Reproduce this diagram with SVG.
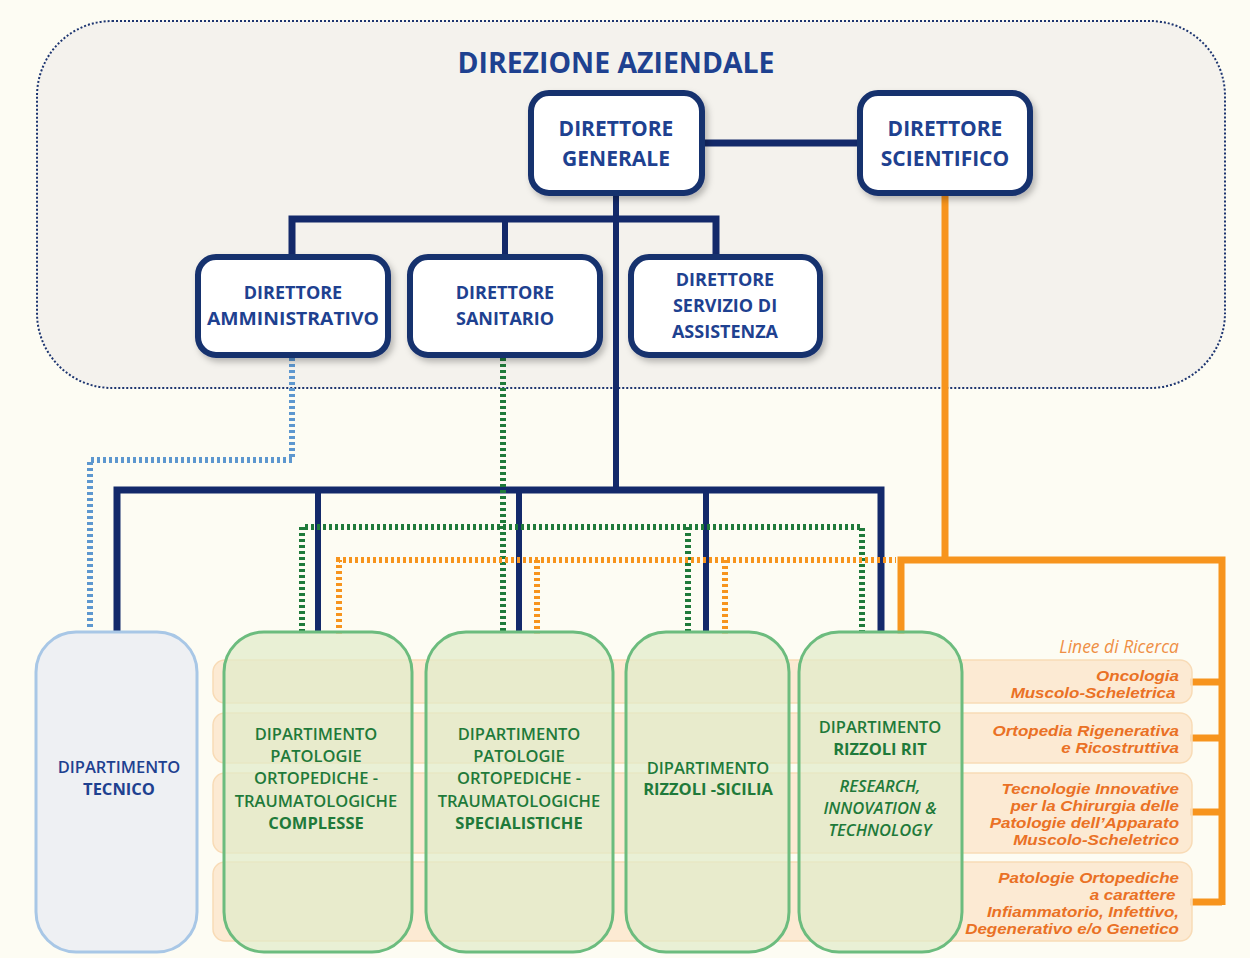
<svg xmlns="http://www.w3.org/2000/svg" width="1250" height="958" viewBox="0 0 1250 958">
<defs>
<filter id="sh" x="-20%" y="-20%" width="140%" height="150%">
<feDropShadow dx="3" dy="4" stdDeviation="3" flood-color="#000" flood-opacity="0.25"/>
</filter>
<style>
.dir{fill:#ffffff;stroke:#16306e;stroke-width:6}
.dt{font-family:"Open Sans",Lato,sans-serif;font-weight:bold;fill:#1e4190;text-anchor:middle}
.nv{stroke:#13296a;fill:none}
.dot{fill:none;stroke-width:6;stroke-dasharray:3 3}
.blu{stroke:#5d97cf}
.grn{stroke:#1f7a3a}
.org{stroke:#f7941d}
.band{fill:#fbe6cd;fill-opacity:0.85;stroke:#f8dbb6;stroke-width:1.5}
.dep{fill:#e1ebc9;fill-opacity:0.72;stroke:#6cbc7e;stroke-width:3}
.gt{font-family:"Open Sans",Lato,sans-serif;font-weight:600;font-size:16.5px;fill:#1f7a3a;text-anchor:middle}
.gb{font-weight:bold}
.gi{font-style:italic;font-weight:600}
.rt{font-family:"Liberation Sans",Arial,sans-serif;font-weight:bold;font-style:italic;font-size:14.5px;fill:#ea7125;text-anchor:end}
</style>
</defs>
<rect x="0" y="0" width="1250" height="958" fill="#fdfcf3"/>

<g id="direzione-aziendale">
<rect x="37" y="21" width="1188" height="367" rx="75" fill="#f4f2ed" stroke="#1d3570" stroke-width="2" stroke-dasharray="2 2"/>
<text x="616" y="73" class="dt" font-size="28" textLength="317" lengthAdjust="spacingAndGlyphs" fill="#1a3170">DIREZIONE AZIENDALE</text>
</g>

<g id="connectors">
<line class="nv" x1="702" y1="143" x2="860" y2="143" stroke-width="7"/>
<line class="nv" x1="616" y1="193" x2="616" y2="490" stroke-width="6"/>
<polyline class="nv" points="292,256 292,219 716,219 716,256" stroke-width="7"/>
<line class="nv" x1="505" y1="219" x2="505" y2="256" stroke-width="6"/>
<polyline class="nv" points="117,632 117,490 881,490 881,632" stroke-width="7"/>
<line class="nv" x1="318" y1="490" x2="318" y2="632" stroke-width="6"/>
<line class="nv" x1="519" y1="490" x2="519" y2="632" stroke-width="6"/>
<line class="nv" x1="706" y1="490" x2="706" y2="632" stroke-width="6"/>
<polyline class="dot blu" points="292,358 292,460 90,460 90,628"/>
<line class="dot grn" x1="503" y1="358" x2="503" y2="632"/>
<polyline class="dot grn" points="302,632 302,527 862,527 862,632"/>
<line class="dot grn" x1="688" y1="527" x2="688" y2="632"/>
<polyline class="dot org" points="339,634 339,560 896,560"/>
<line class="dot org" x1="537" y1="560" x2="537" y2="634"/>
<line class="dot org" x1="725" y1="560" x2="725" y2="634"/>
<line x1="945" y1="196" x2="945" y2="560" stroke="#f7941d" stroke-width="7"/>
<polyline points="901,634 901,560 1222,560 1222,905" fill="none" stroke="#f7941d" stroke-width="7"/>
<g stroke="#f7941d" stroke-width="7">
<line x1="1190" y1="682" x2="1222" y2="682"/>
<line x1="1190" y1="738" x2="1222" y2="738"/>
<line x1="1190" y1="812" x2="1222" y2="812"/>
<line x1="1190" y1="902" x2="1222" y2="902"/>
</g>
</g>

<g id="direttore-generale">
<rect class="dir" x="531" y="93" width="171" height="100" rx="18" filter="url(#sh)"/>
<text class="dt" x="616" y="136" font-size="21">DIRETTORE</text>
<text class="dt" x="616" y="166" font-size="21">GENERALE</text>
</g>
<g id="direttore-scientifico">
<rect class="dir" x="860" y="93" width="170" height="100" rx="18" filter="url(#sh)"/>
<text class="dt" x="945" y="136" font-size="21">DIRETTORE</text>
<text class="dt" x="945" y="166" font-size="21">SCIENTIFICO</text>
</g>
<g id="direttore-amministrativo">
<rect class="dir" x="198" y="257" width="190" height="98" rx="18" stroke-width="5" filter="url(#sh)"/>
<text class="dt" x="293" y="299" font-size="18">DIRETTORE</text>
<text class="dt" x="293" y="325" font-size="18" textLength="172" lengthAdjust="spacingAndGlyphs">AMMINISTRATIVO</text>
</g>
<g id="direttore-sanitario">
<rect class="dir" x="410" y="257" width="190" height="98" rx="18" stroke-width="5" filter="url(#sh)"/>
<text class="dt" x="505" y="299" font-size="18">DIRETTORE</text>
<text class="dt" x="505" y="325" font-size="18">SANITARIO</text>
</g>
<g id="direttore-servizio-assistenza">
<rect class="dir" x="631" y="257" width="189" height="98" rx="18" stroke-width="5" filter="url(#sh)"/>
<text class="dt" x="725" y="286" font-size="18">DIRETTORE</text>
<text class="dt" x="725" y="312" font-size="18">SERVIZIO DI</text>
<text class="dt" x="725" y="338" font-size="18">ASSISTENZA</text>
</g>

<g id="linee-di-ricerca">
<rect class="band" x="213" y="660" width="979" height="43" rx="12"/>
<rect class="band" x="213" y="713" width="979" height="50" rx="12"/>
<rect class="band" x="213" y="773" width="979" height="80" rx="12"/>
<rect class="band" x="213" y="862" width="979" height="79" rx="12"/>
<text x="1179" y="653" font-family="'Open Sans',Lato,sans-serif" font-style="italic" font-size="17.5" fill="#ef8f45" text-anchor="end">Linee di Ricerca</text>
<g transform="translate(1179,0) scale(1.17,1) translate(-1179,0)">
<text class="rt" x="1179" y="681">Oncologia</text>
<text class="rt" x="1176" y="698">Muscolo-Scheletrica</text>
<text class="rt" x="1179" y="736">Ortopedia Rigenerativa</text>
<text class="rt" x="1179" y="753">e Ricostruttiva</text>
<text class="rt" x="1179" y="794">Tecnologie Innovative</text>
<text class="rt" x="1179" y="811">per la Chirurgia delle</text>
<text class="rt" x="1179" y="828">Patologie dell’Apparato</text>
<text class="rt" x="1179" y="845">Muscolo-Scheletrico</text>
<text class="rt" x="1179" y="883">Patologie Ortopediche</text>
<text class="rt" x="1176" y="900">a carattere</text>
<text class="rt" x="1179" y="917">Infiammatorio, Infettivo,</text>
<text class="rt" x="1179" y="934">Degenerativo e/o Genetico</text>
</g>
</g>

<g id="dipartimento-tecnico">
<rect x="36" y="632" width="161" height="320" rx="40" fill="#eef0f3" stroke="#a8c7e6" stroke-width="3"/>
<text class="gt" x="119" y="773" style="fill:#1e4190">DIPARTIMENTO</text>
<text class="gt gb" x="119" y="795" style="fill:#1e4190">TECNICO</text>
</g>
<g id="dipartimento-complesse">
<rect class="dep" x="224" y="632" width="188" height="320" rx="40"/>
<text class="gt" x="316" y="740">DIPARTIMENTO</text>
<text class="gt" x="316" y="762">PATOLOGIE</text>
<text class="gt" x="316" y="784">ORTOPEDICHE -</text>
<text class="gt" x="316" y="807">TRAUMATOLOGICHE</text>
<text class="gt gb" x="316" y="829">COMPLESSE</text>
</g>
<g id="dipartimento-specialistiche">
<rect class="dep" x="426" y="632" width="187" height="320" rx="40"/>
<text class="gt" x="519" y="740">DIPARTIMENTO</text>
<text class="gt" x="519" y="762">PATOLOGIE</text>
<text class="gt" x="519" y="784">ORTOPEDICHE -</text>
<text class="gt" x="519" y="807">TRAUMATOLOGICHE</text>
<text class="gt gb" x="519" y="829">SPECIALISTICHE</text>
</g>
<g id="dipartimento-sicilia">
<rect class="dep" x="626" y="632" width="163" height="320" rx="40"/>
<text class="gt" x="708" y="774">DIPARTIMENTO</text>
<text class="gt gb" x="708" y="795">RIZZOLI -SICILIA</text>
</g>
<g id="dipartimento-rit">
<rect class="dep" x="799" y="632" width="163" height="320" rx="40"/>
<text class="gt" x="880" y="733">DIPARTIMENTO</text>
<text class="gt gb" x="880" y="755">RIZZOLI RIT</text>
<text class="gt gi" x="880" y="792">RESEARCH,</text>
<text class="gt gi" x="880" y="814">INNOVATION &amp;</text>
<text class="gt gi" x="880" y="836">TECHNOLOGY</text>
</g>
</svg>
